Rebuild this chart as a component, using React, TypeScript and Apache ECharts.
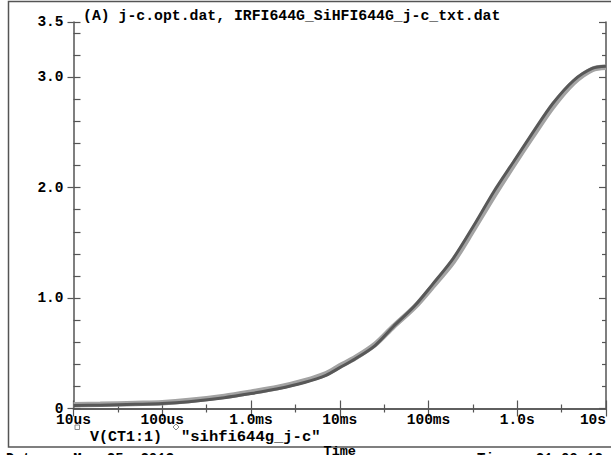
import React, { useEffect, useRef } from "react";
import * as echarts from "echarts";

const TITLE = "(A) j-c.opt.dat, IRFI644G_SiHFI644G_j-c_txt.dat";
const SERIES_NAMES = ["V(CT1:1)", "\"sihfi644g_j-c\""];
const X_NAME = "Time";
const DATE_TEXT = "Date:   Mar 25, 2013";
const TIME_TEXT = "Time:  21:09:12";

const TIMES = [1e-5, 2e-5, 5e-5, 1e-4, 2e-4, 5e-4, 1e-3, 2e-3, 4e-3, 7e-3, 1e-2, 1.5e-2, 2.5e-2, 4e-2, 7e-2, 0.11, 0.19, 0.32, 0.55, 0.9, 1.5, 2.5, 4.3, 7, 10];
const V_SIM = [0.027, 0.03, 0.038, 0.045, 0.062, 0.098, 0.135, 0.178, 0.235, 0.3, 0.37, 0.45, 0.57, 0.74, 0.93, 1.12, 1.36, 1.65, 1.97, 2.23, 2.5, 2.76, 2.97, 3.08, 3.1];
const V_MEAS = [0.035, 0.038, 0.046, 0.053, 0.072, 0.11, 0.148, 0.19, 0.25, 0.315, 0.385, 0.46, 0.58, 0.74, 0.92, 1.1, 1.33, 1.62, 1.93, 2.2, 2.47, 2.73, 2.95, 3.07, 3.09];

const X_MAJOR = [1e-5, 1e-4, 1e-3, 1e-2, 1e-1, 1, 10];
const X_LABELS = ["10us", "100us", "1.0ms", "10ms", "100ms", "1.0s", "10s"];
const X_MINOR = [3.162e-5, 3.162e-4, 3.162e-3, 3.162e-2, 0.3162, 3.162];
const Y_MAJOR = [0, 1, 2, 3, 3.5];
const Y_LABELS = ["0", "1.0", "2.0", "3.0", "3.5"];
const Y_MINOR = [0.2, 0.4, 0.6, 0.8, 1.2, 1.4, 1.6, 1.8, 2.2, 2.4, 2.6, 2.8, 3.2, 3.4];

const FONT = "'Liberation Mono', 'DejaVu Sans Mono', monospace";
const AXIS_COLOR = "#555";

export default function App() {
  const ref = useRef<HTMLDivElement>(null);

  useEffect(() => {
    if (!ref.current) return;
    const chart = echarts.init(ref.current, null, { renderer: "svg" });

    const xLabel = (v: number) => {
      const lv = Math.log10(v);
      let best = 0;
      let bd = Infinity;
      X_MAJOR.forEach((m, i) => {
        const d = Math.abs(Math.log10(m) - lv);
        if (d < bd) { bd = d; best = i; }
      });
      return X_LABELS[best];
    };
    const yLabel = (v: number) => {
      const i = Y_MAJOR.findIndex((m) => Math.abs(m - v) < 1e-6);
      return i >= 0 ? Y_LABELS[i] : "";
    };

    const baseX = {
      type: "log",
      logBase: 10,
      min: X_MAJOR[0],
      max: X_MAJOR[X_MAJOR.length - 1],
      splitLine: { show: false },
    };
    const baseY = {
      type: "value",
      min: 0,
      max: 3.5,
      splitLine: { show: false },
    };
    const tickStyle = { color: AXIS_COLOR, width: 1.2 };

    const option: any = {
      animation: false,
      title: {
        text: TITLE,
        left: 83,
        top: 8,
        padding: 0,
        textStyle: { fontFamily: FONT, fontWeight: "bold", fontSize: 14.8, color: "#000" },
      },
      grid: { left: 73.5, right: 5, top: 22, bottom: 46.5, containLabel: false, outerBoundsMode: "none" },
      xAxis: [
        {
          ...baseX,
          position: "bottom",
          name: X_NAME,
          nameLocation: "middle",
          nameGap: 36,
          nameTextStyle: { fontFamily: FONT, fontWeight: "bold", fontSize: 13.5, color: "#000" },
          axisLine: { show: true, lineStyle: { color: AXIS_COLOR, width: 1.5 } },
          axisTick: { show: true, inside: true, length: 8, lineStyle: tickStyle, customValues: X_MAJOR },
          axisLabel: {
            show: true,
            customValues: X_MAJOR,
            formatter: xLabel,
            margin: 4,
            alignMaxLabel: "right",
            fontFamily: FONT,
            fontWeight: "bold",
            fontSize: 14.5,
            color: "#000",
          },
        },
        {
          ...baseX,
          position: "bottom",
          axisLine: { show: false },
          axisTick: { show: true, inside: true, length: 4, lineStyle: tickStyle, customValues: X_MINOR },
          axisLabel: { show: false },
        },
        {
          ...baseX,
          position: "top",
          axisLine: { show: true, lineStyle: { color: AXIS_COLOR, width: 1.5 } },
          axisTick: { show: true, inside: true, length: 8, lineStyle: tickStyle, customValues: X_MAJOR },
          axisLabel: { show: false },
        },
        {
          ...baseX,
          position: "top",
          axisLine: { show: false },
          axisTick: { show: true, inside: true, length: 4, lineStyle: tickStyle, customValues: X_MINOR },
          axisLabel: { show: false },
        },
      ],
      yAxis: [
        {
          ...baseY,
          position: "left",
          axisLine: { show: true, lineStyle: { color: AXIS_COLOR, width: 1.5 } },
          axisTick: { show: true, inside: false, length: 6, lineStyle: tickStyle, customValues: Y_MAJOR },
          axisLabel: {
            show: true,
            customValues: Y_MAJOR,
            formatter: yLabel,
            margin: 10,
            fontFamily: FONT,
            fontWeight: "bold",
            fontSize: 14.5,
            color: "#000",
          },
        },
        {
          ...baseY,
          position: "left",
          axisLine: { show: false },
          axisTick: { show: true, inside: true, length: 7, lineStyle: tickStyle, customValues: [...Y_MAJOR, ...Y_MINOR] },
          axisLabel: { show: false },
        },
        {
          ...baseY,
          position: "right",
          axisLine: { show: true, lineStyle: { color: AXIS_COLOR, width: 1.5 } },
          axisTick: { show: true, inside: true, length: 7, lineStyle: tickStyle, customValues: Y_MAJOR },
          axisLabel: { show: false },
        },
        {
          ...baseY,
          position: "right",
          axisLine: { show: false },
          axisTick: { show: true, inside: true, length: 4, lineStyle: tickStyle, customValues: Y_MINOR },
          axisLabel: { show: false },
        },
      ],
      series: [
        {
          name: SERIES_NAMES[1],
          type: "line",
          xAxisIndex: 0,
          yAxisIndex: 0,
          data: TIMES.map((t, i) => [t, V_MEAS[i]]),
          showSymbol: false,
          smooth: 0.3,
          lineStyle: { color: "#a3a3a3", width: 5.5 },
          z: 2,
        },
        {
          name: SERIES_NAMES[0],
          type: "line",
          xAxisIndex: 0,
          yAxisIndex: 0,
          data: TIMES.map((t, i) => [t, V_SIM[i]]),
          showSymbol: false,
          smooth: 0.3,
          lineStyle: { color: "#585858", width: 3 },
          z: 3,
        },
      ],
      graphic: [
        {
          type: "rect",
          shape: { x: 8.5, y: 1.5, width: 700, height: 445.5 },
          style: { fill: "none", stroke: AXIS_COLOR, lineWidth: 1.5 },
          silent: true,
        },
        {
          type: "rect",
          shape: { x: 75, y: 425, width: 4.5, height: 4.5 },
          style: { fill: "none", stroke: "#8a8a8a", lineWidth: 1 },
        },
        {
          type: "text",
          x: 90,
          y: 437,
          style: { text: SERIES_NAMES[0], fontFamily: FONT, fontWeight: "bold", fontSize: 15, fill: "#000", verticalAlign: "middle" },
        },
        {
          type: "polygon",
          shape: { points: [[176, 424], [179, 427], [176, 430], [173, 427]] },
          style: { fill: "none", stroke: "#8a8a8a", lineWidth: 1 },
        },
        {
          type: "text",
          x: 181,
          y: 437,
          style: { text: SERIES_NAMES[1], fontFamily: FONT, fontWeight: "bold", fontSize: 15.5, fill: "#000", verticalAlign: "middle" },
        },
        {
          type: "text",
          x: 6,
          y: 452,
          style: { text: DATE_TEXT, fontFamily: FONT, fontWeight: "bold", fontSize: 14, fill: "#000", verticalAlign: "top" },
        },
        {
          type: "text",
          x: 477,
          y: 452,
          style: { text: TIME_TEXT, fontFamily: FONT, fontWeight: "bold", fontSize: 14, fill: "#000", verticalAlign: "top" },
        },
      ],
    };

    chart.setOption(option);
    return () => chart.dispose();
  }, []);

  return (
    <div
      ref={ref}
      style={{ position: "absolute", left: 0, top: 0, width: 611, height: 455, background: "#fff" }}
    />
  );
}
